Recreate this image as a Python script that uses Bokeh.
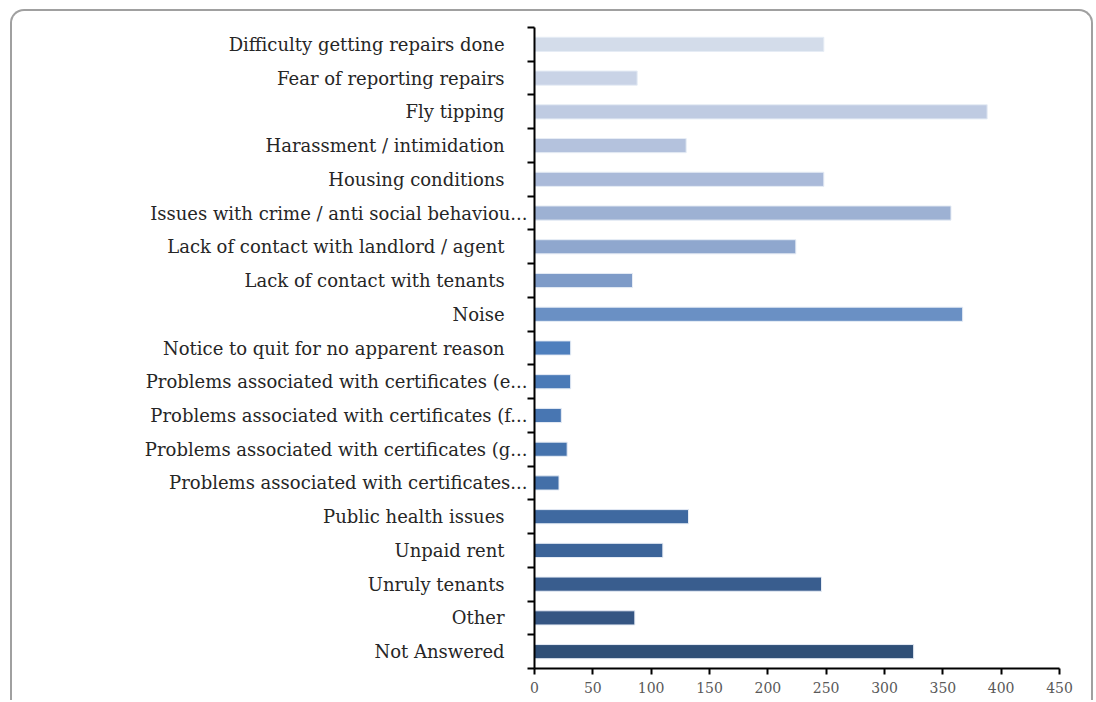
from bokeh.plotting import figure
from bokeh.models import Range1d, FixedTicker, ColumnDataSource, InlineStyleSheet
from bokeh.embed import file_html
from bokeh.resources import INLINE

categories = [
    "Difficulty getting repairs done",
    "Fear of reporting repairs",
    "Fly tipping",
    "Harassment / intimidation",
    "Housing conditions",
    "Issues with crime / anti social behaviou...",
    "Lack of contact with landlord / agent",
    "Lack of contact with tenants",
    "Noise",
    "Notice to quit for no apparent reason",
    "Problems associated with certificates (e...",
    "Problems associated with certificates (f...",
    "Problems associated with certificates (g...",
    "Problems associated with certificates...",
    "Public health issues",
    "Unpaid rent",
    "Unruly tenants",
    "Other",
    "Not Answered",
]
counts = [248, 88, 388, 130, 248, 357, 224, 84, 367, 31, 31, 23, 28, 21, 132, 110, 246, 86, 325]
x_ticks = [0, 50, 100, 150, 200, 250, 300, 350, 400, 450]
bar_colors = [
    "#D3DCEA", "#C9D3E6", "#BFCBE2", "#B4C2DD", "#AABAD9", "#9DB1D3",
    "#8FA7CE", "#7E9BC8", "#6A90C4", "#4E7FBD", "#4A7AB7", "#4876B2",
    "#4573AD", "#436FA8", "#3F69A0", "#3C6499", "#395D8E", "#355683", "#2F4F77",
]

n = len(categories)
centers = [n - i - 0.5 for i in range(n)]
src = ColumnDataSource(dict(y=centers, v=counts, c=bar_colors))

W, H = 1094, 700
p = figure(width=W, height=H, output_backend="svg", toolbar_location=None,
           x_range=Range1d(0, 450), y_range=Range1d(0, n))
p.min_border_left = 534
p.min_border_right = W - 1059
p.min_border_top = 27
p.min_border_bottom = H - 668
p.outline_line_color = None
p.xgrid.grid_line_color = None
p.ygrid.grid_line_color = None

p.hbar(y="y", right="v", left=0, height=0.42, fill_color="c",
       line_color="#e6ecf5", line_width=1, source=src)

font = "DejaVu Serif"
ya = p.yaxis[0]
ya.ticker = FixedTicker(ticks=centers, minor_ticks=list(range(n + 1)))
pad = "\u00a0" * 4
ya.major_label_overrides = {
    c: (lab if lab.endswith("...") else lab + pad) for c, lab in zip(centers, categories)
}
ya.major_tick_out = 0
ya.major_tick_in = 0
ya.minor_tick_out = 7
ya.minor_tick_in = 0
ya.minor_tick_line_color = "black"
ya.minor_tick_line_width = 2
ya.axis_line_color = "black"
ya.axis_line_width = 2
ya.major_label_standoff = 0
ya.major_label_text_font = font
ya.major_label_text_font_size = "18px"
ya.major_label_text_color = "#262626"

xa = p.xaxis[0]
xa.ticker = FixedTicker(ticks=x_ticks, minor_ticks=[])
xa.major_tick_out = 6
xa.major_tick_in = 0
xa.major_tick_line_width = 2
xa.axis_line_width = 2
xa.axis_line_color = "black"
xa.major_label_text_font = font
xa.major_label_text_font_size = "14px"
xa.major_label_text_color = "#595959"
xa.major_label_standoff = 7

css = """
:host { position: relative; }
:host::after {
  content: ""; position: absolute; left: 10px; top: 9px; right: 1px; bottom: 0px;
  border: 2px solid #a0a0a0; border-bottom: none; border-radius: 14px 14px 0 0;
  pointer-events: none;
}
"""
p.stylesheets = [InlineStyleSheet(css=css)]

open("out.html", "w").write(file_html(p, INLINE))
